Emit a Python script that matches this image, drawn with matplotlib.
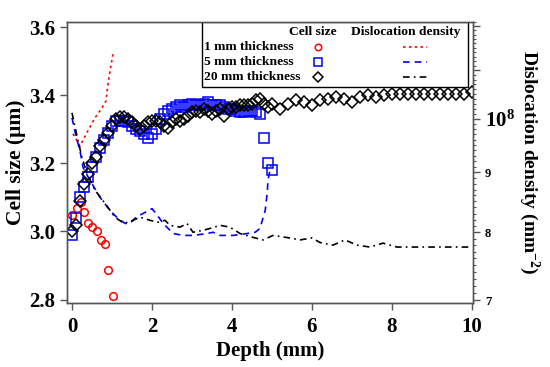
import matplotlib

matplotlib.use("Agg")
import matplotlib.pyplot as plt
from matplotlib.patches import Rectangle
from matplotlib.lines import Line2D
from matplotlib.ticker import FixedLocator, FixedFormatter, NullFormatter

plt.rcParams["font.family"] = ["Liberation Serif", "DejaVu Serif"]
plt.rcParams["font.weight"] = "bold"
plt.rcParams["mathtext.fontset"] = "custom"
plt.rcParams["mathtext.rm"] = "Liberation Serif:bold"
plt.rcParams["mathtext.bf"] = "Liberation Serif:bold"
plt.rcParams["mathtext.default"] = "bf"

# cell size (um) vs depth (mm)
depth_1mm = [0.0, 0.12, 0.22, 0.31, 0.41, 0.51, 0.62, 0.72, 0.82, 0.91, 1.02]
cell_1mm = [3.047, 3.068, 3.088, 3.056, 3.024, 3.012, 3.0, 2.974, 2.962, 2.888, 2.812]

depth_5mm = [0.0, 0.1, 0.2, 0.3, 0.4, 0.5, 0.6, 0.7, 0.8, 0.9,
             1.0, 1.1, 1.2, 1.3, 1.4, 1.5, 1.6, 1.7, 1.8, 1.9,
             2.0, 2.1, 2.2, 2.3, 2.4, 2.5, 2.6, 2.7, 2.8, 2.9,
             3.0, 3.1, 3.2, 3.3, 3.4, 3.5, 3.6, 3.7, 3.8, 3.9,
             4.0, 4.1, 4.2, 4.3, 4.4, 4.5, 4.6, 4.7, 4.8, 4.9, 5.0]
cell_5mm = [2.99, 3.04, 3.10, 3.13, 3.16, 3.19, 3.22, 3.245, 3.27, 3.29,
            3.31, 3.325, 3.325, 3.325, 3.32, 3.31, 3.30, 3.295, 3.285, 3.275,
            3.285, 3.30, 3.33, 3.345, 3.355, 3.36, 3.365, 3.37, 3.365, 3.37,
            3.375, 3.37, 3.37, 3.375, 3.38, 3.37, 3.37, 3.37, 3.365, 3.36,
            3.36, 3.355, 3.35, 3.35, 3.355, 3.355, 3.35, 3.345, 3.275, 3.20, 3.18]

depth_20mm = [0.0, 0.1, 0.2, 0.3, 0.4, 0.5, 0.6, 0.7, 0.8, 0.9,
              1.0, 1.1, 1.2, 1.3, 1.4, 1.5, 1.6, 1.7, 1.8, 1.9,
              2.0, 2.1, 2.2, 2.3, 2.4, 2.5, 2.6, 2.7, 2.8, 2.9,
              3.0, 3.1, 3.2, 3.3, 3.4, 3.5, 3.6, 3.7, 3.8, 3.9,
              4.0, 4.1, 4.2, 4.3, 4.4, 4.5, 4.6, 4.7, 4.8, 4.9,
              5.0, 5.2, 5.4, 5.6, 5.8, 6.0, 6.2, 6.4, 6.6, 6.8,
              7.0, 7.2, 7.4, 7.6, 7.8, 8.0, 8.2, 8.4, 8.6, 8.8,
              9.0, 9.2, 9.4, 9.6, 9.8, 10.0]
cell_20mm = [3.00, 3.02, 3.09, 3.14, 3.17, 3.20, 3.22, 3.25, 3.27, 3.29,
             3.31, 3.33, 3.335, 3.335, 3.33, 3.32, 3.31, 3.30, 3.31, 3.32,
             3.325, 3.325, 3.32, 3.31, 3.305, 3.32, 3.33, 3.325, 3.33, 3.34,
             3.35, 3.355, 3.35, 3.36, 3.355, 3.345, 3.355, 3.36, 3.34, 3.36,
             3.365, 3.365, 3.37, 3.37, 3.37, 3.375, 3.385, 3.39, 3.375, 3.365,
             3.375, 3.36, 3.375, 3.385, 3.38, 3.37, 3.385, 3.39, 3.395, 3.39,
             3.38, 3.395, 3.40, 3.395, 3.40, 3.405, 3.405, 3.405, 3.405, 3.405,
             3.405, 3.405, 3.405, 3.405, 3.405, 3.41]

# dislocation density (mm^-2) vs depth (mm)
ddepth_1mm = [0.025, 0.2, 0.4, 0.575, 0.75, 0.85, 0.9, 0.95, 1.025]
disl_1mm = [9.71e7, 9.48e7, 9.77e7, 1.002e8, 1.022e8, 1.036e8, 1.071e8, 1.099e8, 1.136e8]

ddepth_5mm = [0.0, 0.1, 0.2, 0.28, 0.45, 0.7, 0.95, 1.15, 1.33, 1.45,
              1.6, 1.83, 2.0, 2.1, 2.28, 2.53, 2.78, 3.03, 3.38, 3.53,
              3.7, 4.03, 4.38, 4.58, 4.7, 4.83, 4.88, 4.9, 4.97]
disl_5mm = [1.002e8, 9.67e7, 9.39e7, 9.08e7, 8.86e7, 8.57e7, 8.35e7, 8.22e7, 8.14e7, 8.14e7,
            8.24e7, 8.32e7, 8.38e7, 8.30e7, 8.14e7, 7.98e7, 7.95e7, 7.95e7, 7.98e7, 8.00e7,
            7.95e7, 7.95e7, 7.98e7, 8.00e7, 8.06e7, 8.35e7, 8.64e7, 8.86e7, 9.12e7]

ddepth_20mm = [0.0, 0.15, 0.25, 0.375, 0.575, 0.825, 1.075, 1.3, 1.525, 1.7,
               1.95, 2.15, 2.325, 2.45, 2.7, 2.875, 3.025, 3.275, 3.45, 3.7,
               3.95, 4.2, 4.525, 4.775, 5.025, 5.45, 5.7, 6.0, 6.2, 6.525,
               6.825, 7.125, 7.45, 7.775, 8.125, 9.95]
disl_20mm = [1.012e8, 9.58e7, 9.27e7, 8.98e7, 8.69e7, 8.47e7, 8.24e7, 8.14e7, 8.19e7, 8.24e7,
             8.19e7, 8.16e7, 8.19e7, 8.11e7, 8.08e7, 8.14e7, 8.00e7, 8.03e7, 8.06e7, 8.11e7,
             8.08e7, 7.98e7, 7.92e7, 7.88e7, 7.95e7, 7.91e7, 7.88e7, 7.91e7, 7.84e7, 7.80e7,
             7.88e7, 7.80e7, 7.77e7, 7.83e7, 7.77e7, 7.77e7]

right_ticks = [7e7, 8e7, 9e7, 1e8, 1.1e8, 1.2e8]
right_labels = ["7", "8", "9", "$10^{8}$", "", ""]

spine_color = "#555555"

fig = plt.figure(figsize=(5.5, 3.67), dpi=100)
ax = fig.add_axes([0.1218, 0.1744, 0.7382, 0.7656])
ax2 = ax.twinx()

ax.plot(depth_1mm, cell_1mm, "o", ms=5.5, mfc="none", mec="red", mew=1.1, zorder=3)
ax.plot(depth_5mm, cell_5mm, "s", ms=6.5, mfc="none", mec="blue", mew=1.1, zorder=3)
ax.plot(depth_20mm, cell_20mm, "D", ms=6.5, mfc="none", mec="black", mew=1.1, zorder=4)

ax2.plot(ddepth_1mm, disl_1mm, color="red", lw=1.2, ls=(0, (1.5, 2)))
ax2.plot(ddepth_5mm, disl_5mm, color="blue", lw=1.2, ls=(0, (4, 3)))
ax2.plot(ddepth_20mm, disl_20mm, color="black", lw=1.2, ls=(0, (4, 2.5, 1, 2.5)))

ax.set_xlim(-0.125, 10.025)
ax.set_ylim(2.79, 3.615)
ax2.set_yscale("log")
ax2.set_ylim(6.96e7, 1.21e8)

ax.set_xticks([0, 2, 4, 6, 8, 10])
ax.set_yticks([2.8, 3.0, 3.2, 3.4, 3.6])
ax.set_yticklabels(["2.8", "3.0", "3.2", "3.4", "3.6"])
ax.tick_params(axis="both", direction="out", length=5, width=1, colors=spine_color,
               labelcolor="black", labelsize=15)
ax.tick_params(axis="x", pad=5)

ax2.yaxis.set_major_locator(FixedLocator(right_ticks))
ax2.yaxis.set_major_formatter(FixedFormatter(right_labels))
ax2.yaxis.set_minor_locator(FixedLocator([v * 1e6 for v in range(70, 122)]))
ax2.yaxis.set_minor_formatter(NullFormatter())
ax2.tick_params(axis="y", which="major", direction="out", length=5, width=1,
                colors=spine_color, labelcolor="black", labelsize=9)
ax2.tick_params(axis="y", which="minor", direction="out", length=2.5, width=0.8,
                colors=spine_color)
for lab in ax2.get_yticklabels():
    if "10" in lab.get_text():
        lab.set_fontsize(15)

for a in (ax, ax2):
    for s in a.spines.values():
        s.set_color(spine_color)
        s.set_linewidth(1)

ax.set_xlabel("Depth (mm)", fontsize=15, fontweight="bold", labelpad=3)
ax.set_ylabel("Cell size (μm)", fontsize=15.5, fontweight="bold", labelpad=2)
ax2.set_ylabel("Dislocation density (mm$^{-2}$)", fontsize=14, fontweight="bold",
               rotation=270, labelpad=19)

# table-style legend
ax.add_patch(Rectangle((0.3325, 0.7687), 0.6552, 0.2313, transform=ax.transAxes,
                       fill=True, fc="white", ec="black", lw=1, zorder=5))
fs = 9.7
ax.text(0.606, 0.964, "Cell size", transform=ax.transAxes, ha="center", va="center",
        fontsize=fs, fontweight="bold", zorder=6)
ax.text(0.835, 0.964, "Dislocation density", transform=ax.transAxes, ha="center",
        va="center", fontsize=fs, fontweight="bold", zorder=6)
rows = [("1 mm thickness", "o", "red", (0, (1.5, 2)), 5.5),
        ("5 mm thickness", "s", "blue", (0, (4, 3)), 6.5),
        ("20 mm thickness", "D", "black", (0, (4, 2.5, 1, 2.5)), 6.5)]
for (label, mk, col, ls, ms), yy in zip(rows, [0.911, 0.858, 0.804]):
    ax.text(0.3374, yy, label, transform=ax.transAxes, ha="left", va="center",
            fontsize=fs, fontweight="bold", zorder=6)
    ax.add_line(Line2D([0.618], [yy], marker=mk, ms=ms * 0.85, mfc="none", mec=col,
                       mew=1.1, transform=ax.transAxes, zorder=6))
    ax.add_line(Line2D([0.8276, 0.8867], [yy, yy], color=col, lw=1.2, ls=ls,
                       transform=ax.transAxes, zorder=6))

fig.savefig("out.png", dpi=100)
